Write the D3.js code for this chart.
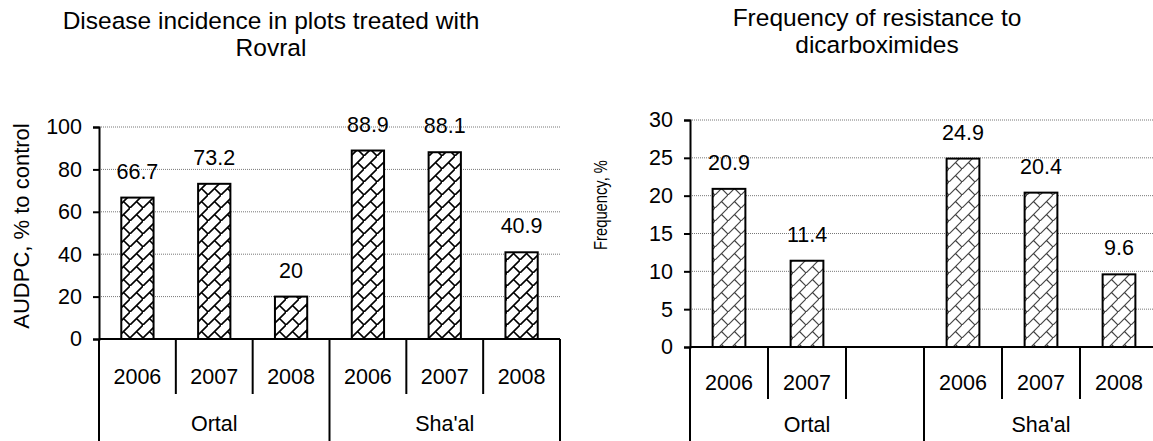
<!DOCTYPE html>
<html>
<head>
<meta charset="utf-8">
<script src="https://cdn.jsdelivr.net/npm/d3@7"></script>
<style>
  body { margin: 0; background: #fff; }
  svg { display: block; font-family: "Liberation Sans", Arial, sans-serif; }
</style>
</head>
<body>
<div id="chart"></div>
<script>
// data
const groups = ["Ortal", "Sha'al"];
const audpcYears = ["2006", "2007", "2008", "2006", "2007", "2008"];
const audpcValues = [66.7, 73.2, 20, 88.9, 88.1, 40.9];
const audpcTicks = [0, 20, 40, 60, 80, 100];

const freqYears = ["2006", "2007", "", "2006", "2007", "2008"];
const freqValues = [20.9, 11.4, null, 24.9, 20.4, 9.6];
const freqTicks = [0, 5, 10, 15, 20, 25, 30];

const svg = d3.select("#chart").append("svg")
  .attr("width", 1153)
  .attr("height", 441);

const defs = svg.append("defs");

function weave(id, color, w, s) {
  const p = defs.append("pattern")
    .attr("id", id)
    .attr("patternUnits", "userSpaceOnUse")
    .attr("width", s)
    .attr("height", s);
  p.append("rect").attr("width", s).attr("height", s).attr("fill", "#fff");
  p.append("path")
    .attr("d", `M-1,${s + 1} L${s + 1},-1 M${s / 2},${s / 2} L${s},${s}`)
    .attr("stroke", color)
    .attr("stroke-width", w)
    .attr("fill", "none");
}
weave("weaveL", "#000", 1.6, 13);
weave("weaveR", "#444", 1.2, 13);

const fs = "21.5px";

function drawChart(opt) {
  const g = svg.append("g");

  const x = d3.scaleBand()
    .domain(d3.range(opt.values.length))
    .range([opt.left, opt.right])
    .padding(0);

  const y = d3.scaleLinear()
    .domain([0, opt.ticks[opt.ticks.length - 1]])
    .range([opt.bottom, opt.top]);

  // grid
  g.append("g")
    .selectAll("line")
    .data(opt.ticks.slice(1))
    .join("line")
    .attr("x1", opt.left)
    .attr("x2", opt.right)
    .attr("y1", d => y(d))
    .attr("y2", d => y(d))
    .attr("stroke", "#777")
    .attr("stroke-width", 1)
    .attr("stroke-dasharray", "1,1");

  // y axis
  const yAxis = g.append("g")
    .attr("transform", `translate(${opt.left},0)`)
    .call(d3.axisLeft(y).tickValues(opt.ticks).tickSize(6).tickPadding(11));
  yAxis.select(".domain").attr("stroke", "#000").attr("stroke-width", 2);
  yAxis.selectAll(".tick line").attr("stroke", "#000").attr("stroke-width", 2);
  yAxis.selectAll(".tick text")
    .attr("fill", "#000")
    .style("font-size", fs)
    .style("font-family", "Liberation Sans, Arial, sans-serif");

  // bars
  const data = opt.values.map((v, i) => ({ i, v })).filter(d => d.v != null);
  const bw = x.bandwidth() * 0.42;
  g.append("g")
    .selectAll("rect")
    .data(data)
    .join("rect")
    .attr("x", d => x(d.i) + (x.bandwidth() - bw) / 2)
    .attr("y", d => y(d.v))
    .attr("width", bw)
    .attr("height", d => y(0) - y(d.v))
    .attr("fill", `url(#${opt.pattern})`)
    .attr("stroke", "#000")
    .attr("stroke-width", 2);

  g.append("g")
    .selectAll("text")
    .data(data)
    .join("text")
    .attr("x", d => x(d.i) + x.bandwidth() / 2)
    .attr("y", d => y(d.v) - 19)
    .attr("text-anchor", "middle")
    .style("font-size", fs)
    .text(d => d.v);

  // x axis baseline
  g.append("line")
    .attr("x1", opt.left).attr("x2", opt.right)
    .attr("y1", y(0)).attr("y2", y(0))
    .attr("stroke", "#000").attr("stroke-width", 2);

  // separators
  const bounds = d3.range(opt.values.length + 1);
  g.append("g")
    .selectAll("line")
    .data(bounds)
    .join("line")
    .attr("x1", d => d === opt.values.length ? opt.right : x(d))
    .attr("x2", d => d === opt.values.length ? opt.right : x(d))
    .attr("y1", y(0))
    .attr("y2", d => d % 3 === 0 ? 441 : opt.sepEnd)
    .attr("stroke", "#000")
    .attr("stroke-width", 2);

  // year labels
  g.append("g")
    .selectAll("text")
    .data(opt.years)
    .join("text")
    .attr("x", (d, i) => x(i) + x.bandwidth() / 2)
    .attr("y", opt.yearY)
    .attr("text-anchor", "middle")
    .attr("dominant-baseline", "central")
    .style("font-size", fs)
    .text(d => d);

  // group labels
  g.append("g")
    .selectAll("text")
    .data(groups)
    .join("text")
    .attr("x", (d, i) => (x(i * 3) + (i === 1 ? opt.right : x(3))) / 2)
    .attr("y", opt.groupY)
    .attr("text-anchor", "middle")
    .attr("dominant-baseline", "central")
    .style("font-size", fs)
    .text(d => d);

  // axis title (the right one is a bit condensed in the original)
  g.append("text")
    .attr("transform", `translate(${opt.axisTitleX},${opt.axisTitleY}) rotate(-90) scale(${opt.axisTitleSquash},1)`)
    .attr("text-anchor", "middle")
    .attr("dominant-baseline", "central")
    .style("font-size", opt.axisTitleSize)
    .text(opt.axisTitle);

  // chart title
  g.append("text")
    .attr("x", opt.titleX)
    .attr("text-anchor", "middle")
    .style("font-size", "24.5px")
    .selectAll("tspan")
    .data(opt.title)
    .join("tspan")
    .attr("x", opt.titleX)
    .attr("y", (d, i) => opt.titleY + i * 27)
    .text(d => d);
}

drawChart({
  values: audpcValues, years: audpcYears, ticks: audpcTicks,
  left: 99, right: 560, top: 127, bottom: 339,
  sepEnd: 394, yearY: 377, groupY: 424,
  pattern: "weaveL",
  axisTitle: "AUDPC, % to control", axisTitleX: 21, axisTitleY: 226, axisTitleSize: "22px", axisTitleSquash: 1,
  title: ["Disease incidence in plots treated with", "Rovral"], titleX: 271, titleY: 29
});

drawChart({
  values: freqValues, years: freqYears, ticks: freqTicks,
  left: 690, right: 1158, top: 120, bottom: 347,
  sepEnd: 399, yearY: 383, groupY: 425,
  pattern: "weaveR",
  axisTitle: "Frequency, %", axisTitleX: 600, axisTitleY: 205, axisTitleSize: "18px", axisTitleSquash: 0.82,
  title: ["Frequency of resistance to", "dicarboximides"], titleX: 877, titleY: 26
});
</script>
</body>
</html>
